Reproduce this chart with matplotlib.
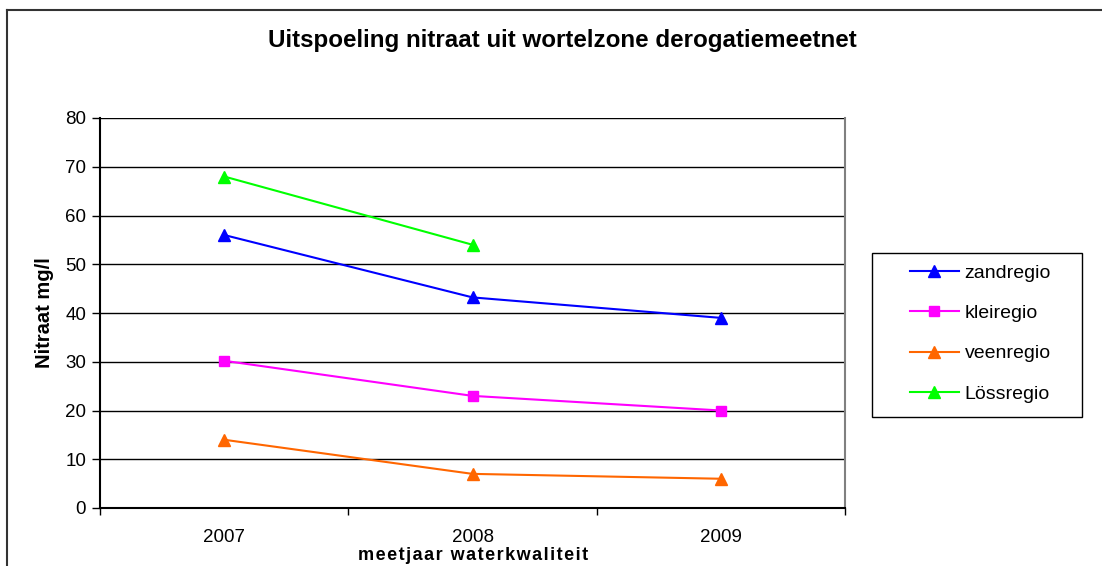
import matplotlib
matplotlib.use("Agg")
import matplotlib.pyplot as plt
from matplotlib.lines import Line2D
from matplotlib.patches import Rectangle

plt.rcParams['font.family'] = ['Liberation Sans', 'DejaVu Sans']

years = ["2007", "2008", "2009"]
zandregio = [56, 43.2, 39]
kleiregio = [30.2, 23, 20]
veenregio = [14, 7, 6]
lossregio = [68, 54]

series = [
    ("zandregio", zandregio, "#0000FF", "^", 9),
    ("kleiregio", kleiregio, "#FF00FF", "s", 7),
    ("veenregio", veenregio, "#FF6600", "^", 9),
    ("Lössregio", lossregio, "#00FF00", "^", 9),
]

W, H = 1102, 566
fig = plt.figure(figsize=(W / 100, H / 100), dpi=100)
ax = fig.add_axes([100 / W, 1 - 508 / H, 745 / W, 390 / H])

x = list(range(len(years)))
for name, vals, col, mk, ms in series:
    ax.plot(x[:len(vals)], vals, color=col, marker=mk, markersize=ms,
            linewidth=1.5, label=name, clip_on=False, zorder=3)

ax.set_xlim(-0.5, 2.5)
ax.set_ylim(0, 80)
ax.set_yticks(range(0, 81, 10))
ax.yaxis.grid(True, color="black", linewidth=1)
ax.set_axisbelow(True)

ax.set_xticks(x)
ax.set_xticklabels(years, fontsize=13.5)
ax.tick_params(axis="x", which="major", length=0, pad=15)
ax.set_xticks([-0.5, 0.5, 1.5, 2.5], minor=True)
ax.tick_params(axis="x", which="minor", length=5, width=1, direction="out")
ax.tick_params(axis="y", labelsize=13.5, length=6, width=1, direction="out", pad=4)

for s in ["left", "bottom"]:
    ax.spines[s].set_color("black")
    ax.spines[s].set_linewidth(1.5)
ax.spines["top"].set_visible(False)
ax.spines["right"].set_color("#808080")
ax.spines["right"].set_linewidth(1.5)

ax.set_ylabel("Nitraat mg/l", fontsize=14.5, fontweight="bold", labelpad=8)
xlabel_text = "\u200a".join("meetjaar waterkwaliteit")
fig.text(473 / W, 1 - 556 / H, xlabel_text,
         ha="center", va="center", fontsize=13, fontweight="bold")
fig.text(562 / W, 1 - 41 / H, "Uitspoeling nitraat uit wortelzone derogatiemeetnet",
         ha="center", va="center", fontsize=17.4, fontweight="bold")

leg = ax.legend(loc="upper left", bbox_to_anchor=(910 / W, 1 - 264 / H),
                bbox_transform=fig.transFigure, frameon=False,
                fontsize=14, labelspacing=1.17,
                handlelength=2.5, handletextpad=0.3, borderpad=0,
                borderaxespad=0)

# legend box
fig.add_artist(Rectangle((872 / W, 1 - 417 / H), 210 / W, 164 / H,
                         transform=fig.transFigure, fill=False,
                         edgecolor="black", linewidth=1.0))

# outer chart border (left and top visible)
fig.add_artist(Line2D([7 / W, 7 / W], [0, 1 - 10 / H], transform=fig.transFigure,
                      color="#333333", linewidth=1.5))
fig.add_artist(Line2D([7 / W, 1], [1 - 10 / H, 1 - 10 / H], transform=fig.transFigure,
                      color="#333333", linewidth=1.5))

fig.savefig("out.png", dpi=100)
